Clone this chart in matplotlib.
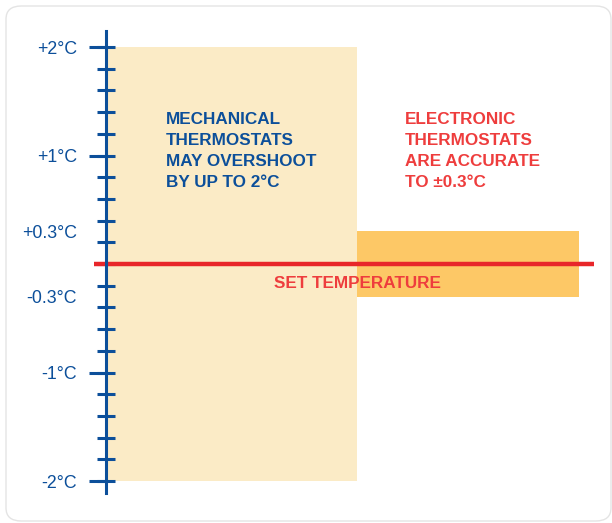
import numpy as np
import matplotlib.pyplot as plt
from matplotlib.patches import FancyBboxPatch

# Диапазоны отклонения температуры
categories = ['MECHANICAL', 'ELECTRONIC']
ranges = [2.0, 0.3]
bar_colors = ['#fbebc6', '#fdc866']

tick_values = [2, 1, 0.3, -0.3, -1, -2]
tick_labels = ['+2°C', '+1°C', '+0.3°C', '-0.3°C', '-1°C', '-2°C']
major_marks = [2, 1, -1, -2]
minor_marks = np.round(np.arange(-2, 2.01, 0.2), 1)

set_point = 0.0

mech_text = 'MECHANICAL\nTHERMOSTATS\nMAY OVERSHOOT\nBY UP TO 2°C'
elec_text = 'ELECTRONIC\nTHERMOSTATS\nARE ACCURATE\nTO ±0.3°C'

BLUE = '#0c4f9a'
RED = '#e8262a'
RED_TEXT = '#ee3d3d'

plt.rcParams['font.family'] = ['Liberation Sans', 'DejaVu Sans']

W, H = 612, 523
fig = plt.figure(figsize=(W / 100, H / 100), dpi=100)

# рамка с закруглёнными углами
frame = FancyBboxPatch((6 / W, 2 / H), 605 / W, 515 / H,
                       boxstyle='round,pad=0,rounding_size=0.025',
                       transform=fig.transFigure, fc='white', ec='#e4e4e4', lw=1.0,
                       zorder=-10)
fig.patches.append(frame)

# оси: x=0 у оси (107px), 1 единица = 251px; y: 1 единица = 108.5px
px_unit = 108.5
y_top, y_bot = 2.15, -2.11
ax_left, ax_right = 106, 600
ax_bottom_px = 481 + 0.11 * px_unit
ax_h = (y_top - y_bot) * px_unit
ax = fig.add_axes([ax_left / W, (H - ax_bottom_px) / H, (ax_right - ax_left) / W, ax_h / H])
ax.set_xlim(0, (ax_right - ax_left) / 251)
ax.set_ylim(y_bot, y_top)
ax.patch.set_alpha(0)

ax.bar([0, 1], [2 * r for r in ranges], bottom=[-r for r in ranges],
       width=[1, 0.885], align='edge', color=bar_colors, zorder=1)

ax.plot([-12 / 251, 488 / 251], [set_point, set_point], color=RED, lw=3.2,
        clip_on=False, zorder=3, solid_capstyle='butt')

for s in ['top', 'right', 'bottom']:
    ax.spines[s].set_visible(False)
ax.spines['left'].set_color(BLUE)
ax.spines['left'].set_linewidth(2.2)
ax.spines['left'].set_zorder(4)

ax.set_xticks([])
ax.set_yticks(tick_values)
ax.set_yticklabels(tick_labels, color=BLUE, fontsize=12.8)
ax.yaxis.set_ticks(minor_marks, minor=True)
ax.yaxis.remove_overlapping_locs = False
ax.tick_params(axis='y', which='major', direction='out', length=12, width=2.2,
               color=BLUE, pad=9)
ax.tick_params(axis='y', which='minor', direction='inout', length=13, width=2.2,
               color=BLUE)
for t in ax.yaxis.get_major_ticks():
    if abs(t.get_loc()) not in major_marks:
        t.tick1line.set_visible(False)

ax.text(0.24, 1.40, mech_text, color=BLUE, fontsize=12.3, fontweight='bold',
        va='top', ha='left', linespacing=1.5)
ax.text(1.19, 1.40, elec_text, color=RED_TEXT, fontsize=12.3, fontweight='bold',
        va='top', ha='left', linespacing=1.5)
ax.text(0.67, -0.18, 'SET TEMPERATURE', color=RED_TEXT, fontsize=12.3,
        fontweight='bold', va='center', ha='left', zorder=5)

fig.savefig('out.png', dpi=100)
